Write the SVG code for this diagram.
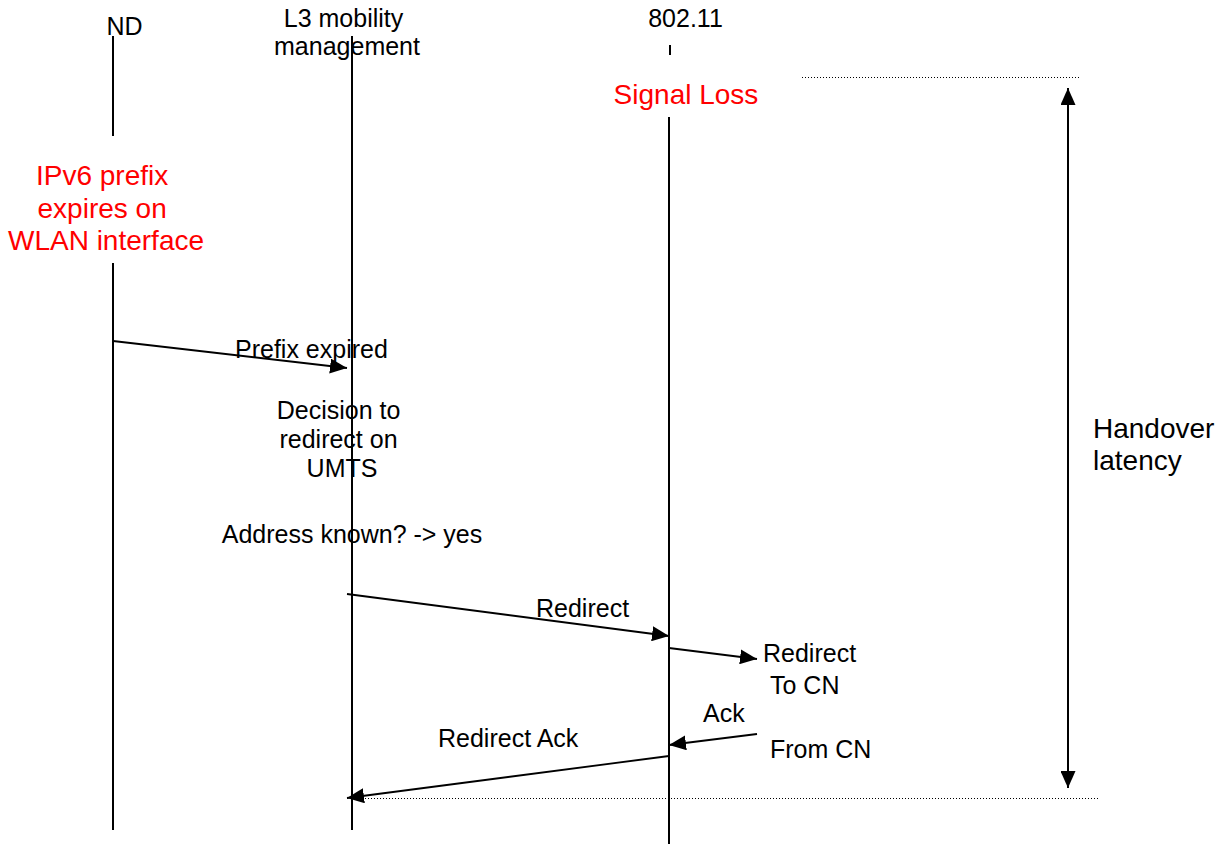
<svg xmlns="http://www.w3.org/2000/svg" width="1220" height="844" viewBox="0 0 1220 844">
  <style>
    text { font-family: "Liberation Sans", Arial, sans-serif; }
    .lbl { font-size: 25px; fill: #000; }
    .red { font-size: 28px; fill: #ff0000; }
    .big { font-size: 28px; fill: #000; }
    .life { stroke: #000; stroke-width: 2; fill: none; }
    .msg { stroke: #000; stroke-width: 1.8; fill: none; marker-end: url(#ah); }
    .dot { stroke: #000; stroke-width: 1; stroke-dasharray: 1 2; fill: none; }
  </style>
  <defs>
    <marker id="ah" markerUnits="userSpaceOnUse" markerWidth="17" markerHeight="15" refX="17" refY="7.5" orient="auto-start-reverse" viewBox="0 0 17 15">
      <path d="M0,0 L17,7.5 L0,15 z" fill="#000"/>
    </marker>
  </defs>
  <rect width="1220" height="844" fill="#fff"/>

  <g id="node-nd">
    <text class="lbl" x="124.5" y="35" text-anchor="middle">ND</text>
    <line class="life" x1="113" y1="36" x2="113" y2="136"/>
    <text class="red" text-anchor="middle">
      <tspan x="106" y="185">IPv6 prefix</tspan>
      <tspan x="106" y="218">expires on</tspan>
      <tspan x="106" y="250">WLAN interface</tspan>
    </text>
    <line class="life" x1="113" y1="263" x2="113" y2="830"/>
  </g>

  <g id="node-l3">
    <text class="lbl" text-anchor="middle">
      <tspan x="347" y="27">L3 mobility</tspan>
      <tspan x="347" y="55">management</tspan>
    </text>
    <line class="life" x1="352" y1="36" x2="352" y2="830"/>
  </g>

  <g id="node-80211">
    <text class="lbl" x="685.5" y="27" text-anchor="middle">802.11</text>
    <line class="life" x1="670" y1="45" x2="670" y2="55"/>
    <text class="red" x="686" y="104" text-anchor="middle">Signal Loss</text>
    <line class="life" x1="669" y1="117" x2="669" y2="844"/>
  </g>

  <g id="notes">
    <text class="lbl" text-anchor="middle">
      <tspan x="342" y="419">Decision to</tspan>
      <tspan x="342" y="448">redirect on</tspan>
      <tspan x="342" y="477">UMTS</tspan>
    </text>
    <text class="lbl" x="352" y="543" text-anchor="middle">Address known? -&gt; yes</text>
  </g>

  <g id="latency">
    <line class="dot" x1="802" y1="77.5" x2="1080" y2="77.5"/>
    <line class="dot" x1="347" y1="798.5" x2="1100" y2="798.5"/>
    <line stroke="#000" stroke-width="2" x1="1068" y1="88" x2="1068" y2="788" marker-start="url(#ah)" marker-end="url(#ah)"/>
    <text class="big">
      <tspan x="1093" y="438">Handover</tspan>
      <tspan x="1093" y="470">latency</tspan>
    </text>
  </g>

  <g id="connectors">
    <line class="msg" x1="113" y1="341" x2="347" y2="368"/>
    <line class="msg" x1="347" y1="594" x2="669" y2="636"/>
    <line class="msg" x1="669" y1="648" x2="757" y2="659"/>
    <line class="msg" x1="757" y1="734" x2="669" y2="745"/>
    <line class="msg" x1="669" y1="756" x2="347" y2="798"/>
  </g>

  <g id="connector-labels">
    <text class="lbl" x="235" y="358">Prefix expired</text>
    <text class="lbl" x="536" y="617">Redirect</text>
    <text class="lbl" x="763" y="662">Redirect</text>
    <text class="lbl" x="770" y="694">To CN</text>
    <text class="lbl" x="703" y="722">Ack</text>
    <text class="lbl" x="770" y="758">From CN</text>
    <text class="lbl" x="438" y="747">Redirect Ack</text>
  </g>
</svg>
